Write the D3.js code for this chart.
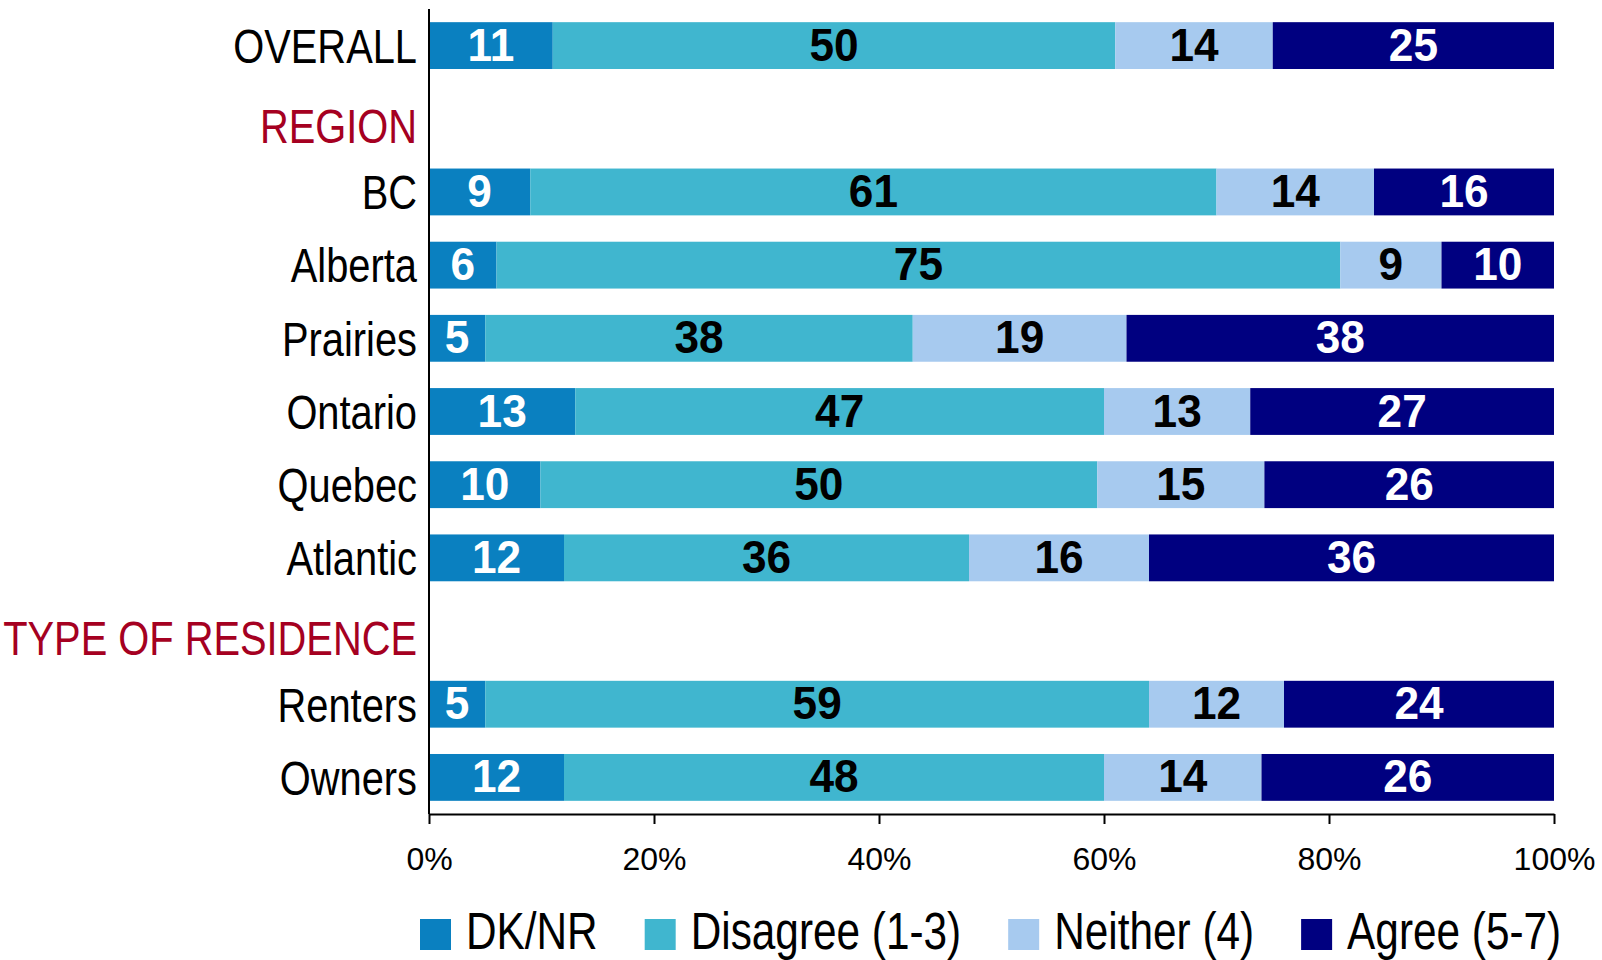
<!DOCTYPE html>
<html>
<head>
<meta charset="utf-8">
<script src="https://cdn.jsdelivr.net/npm/d3@7"></script>
<style>
  html, body { margin: 0; padding: 0; background: #fff; overflow: hidden; }
  svg { display: block; }
</style>
</head>
<body>
<div id="chart"></div>
<script>
// rows top to bottom; header rows have no values
const rows = ["OVERALL", "REGION", "BC", "Alberta", "Prairies", "Ontario", "Quebec", "Atlantic",
              "TYPE OF RESIDENCE", "Renters", "Owners"];
const headers = ["REGION", "TYPE OF RESIDENCE"];
const seriesNames = ["DK/NR", "Disagree (1-3)", "Neither (4)", "Agree (5-7)"];
const seriesColors = ["#0A80C0", "#40B6CF", "#A7CAEF", "#000080"];
const labelColors = ["#fff", "#000", "#000", "#fff"];

const dkNr     = { OVERALL: 11, BC: 9,  Alberta: 6,  Prairies: 5,  Ontario: 13, Quebec: 10, Atlantic: 12, Renters: 5,  Owners: 12 };
const disagree = { OVERALL: 50, BC: 61, Alberta: 75, Prairies: 38, Ontario: 47, Quebec: 50, Atlantic: 36, Renters: 59, Owners: 48 };
const neither  = { OVERALL: 14, BC: 14, Alberta: 9,  Prairies: 19, Ontario: 13, Quebec: 15, Atlantic: 16, Renters: 12, Owners: 14 };
const agree    = { OVERALL: 25, BC: 16, Alberta: 10, Prairies: 38, Ontario: 27, Quebec: 26, Atlantic: 36, Renters: 24, Owners: 26 };
const xTicks = [0, 20, 40, 60, 80, 100];

const width = 1602, height = 960;
const margin = { top: 9, left: 429, right: 48, bottom: 146 };
const narrow = 0.83; // no Arial Narrow installed, squeeze Liberation Sans instead
const sans = "'Liberation Sans', Arial, sans-serif";

const svg = d3.select("#chart").append("svg")
    .attr("width", width)
    .attr("height", height);

const x = d3.scaleLinear().domain([0, 100]).range([margin.left, width - margin.right]);
const y = d3.scaleBand().domain(rows).range([margin.top, height - margin.bottom]).paddingInner(0.36).paddingOuter(0.18);

// build stacked table, normalised to 100% like the source chart
const dataRows = rows.filter(r => !headers.includes(r));
const table = dataRows.map(r => {
    const vals = [dkNr[r], disagree[r], neither[r], agree[r]];
    const total = d3.sum(vals);
    let acc = 0;
    return {
        row: r,
        segs: vals.map((v, i) => {
            const s = { i, v, x0: acc / total * 100, x1: (acc + v) / total * 100 };
            acc += v;
            return s;
        })
    };
});

const bars = svg.append("g").attr("class", "bars")
    .selectAll("g")
    .data(table)
    .enter().append("g");

bars.selectAll("rect")
    .data(d => d.segs.map(s => ({ ...s, row: d.row })))
    .enter().append("rect")
    .attr("x", d => x(d.x0))
    .attr("width", d => x(d.x1) - x(d.x0))
    .attr("y", d => y(d.row))
    .attr("height", y.bandwidth())
    .attr("fill", d => seriesColors[d.i]);

bars.selectAll("text")
    .data(d => d.segs.map(s => ({ ...s, row: d.row })))
    .enter().append("text")
    .attr("transform", d => `translate(${(x(d.x0) + x(d.x1)) / 2},${y(d.row) + y.bandwidth() / 2}) scale(0.94,1)`)
    .attr("dy", "0.32em")
    .attr("text-anchor", "middle")
    .style("font-family", sans)
    .style("font-weight", "bold")
    .style("font-size", "47px")
    .style("fill", d => labelColors[d.i])
    .text(d => d.v);

// category labels
svg.append("g").attr("class", "labels")
    .selectAll("text")
    .data(rows)
    .enter().append("text")
    .attr("transform", d => `translate(${margin.left - 12},${y(d) + y.bandwidth() / 2 + (headers.includes(d) ? 7 : 0)}) scale(${narrow},1)`)
    .attr("dy", "0.36em")
    .attr("text-anchor", "end")
    .style("font-family", sans)
    .style("font-size", "48px")
    .style("fill", d => headers.includes(d) ? "#A50021" : "#000")
    .text(d => d);

// x axis
const axisY = height - margin.bottom;
const xAxis = svg.append("g")
    .attr("transform", `translate(0,${axisY})`)
    .call(d3.axisBottom(x).tickValues(xTicks).tickFormat(d => d + "%").tickSize(10).tickSizeOuter(0).tickPadding(23));
xAxis.select(".domain").attr("stroke", "#000").attr("stroke-width", 2);
xAxis.selectAll(".tick line").attr("stroke", "#000").attr("stroke-width", 2);
xAxis.selectAll(".tick text")
    .style("font-family", sans)
    .style("font-size", "32px")
    .style("fill", "#000");

// y axis line
svg.append("line")
    .attr("x1", margin.left).attr("x2", margin.left)
    .attr("y1", margin.top).attr("y2", axisY)
    .attr("stroke", "#000").attr("stroke-width", 2);

// legend
const legend = svg.append("g").attr("class", "legend")
    .attr("transform", `translate(420,934)`);
let lx = 0;
seriesNames.forEach((name, i) => {
    const g = legend.append("g").attr("transform", `translate(${lx},0)`);
    g.append("rect").attr("x", 0).attr("y", -15).attr("width", 31).attr("height", 31).attr("fill", seriesColors[i]);
    const t = g.append("text")
        .attr("transform", `translate(46,15) scale(${narrow},1)`)
        .style("font-family", sans)
        .style("font-size", "51px")
        .style("fill", "#000")
        .text(name);
    lx += 46 + t.node().getComputedTextLength() * narrow + 47;
});
</script>
</body>
</html>
